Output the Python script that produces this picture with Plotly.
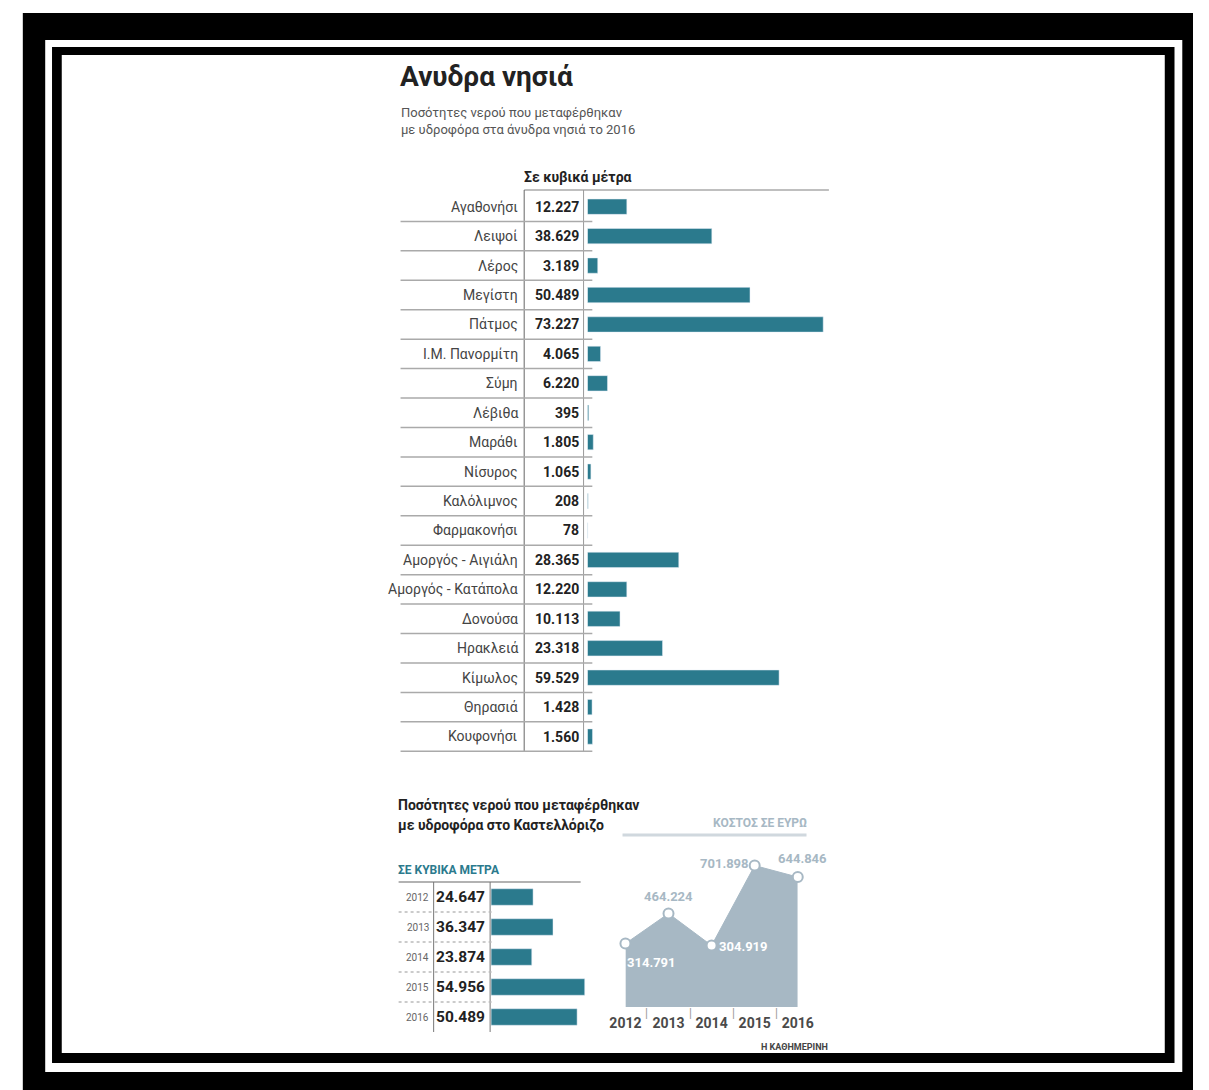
import plotly.graph_objects as go

# ---------------- data ----------------
islands = ["Αγαθονήσι", "Λειψοί", "Λέρος", "Μεγίστη", "Πάτμος", "Ι.Μ. Πανορμίτη", "Σύμη",
           "Λέβιθα", "Μαράθι", "Νίσυρος", "Καλόλιμνος", "Φαρμακονήσι", "Αμοργός - Αιγιάλη",
           "Αμοργός - Κατάπολα", "Δονούσα", "Ηρακλειά", "Κίμωλος", "Θηρασιά", "Κουφονήσι"]
island_m3 = [12227, 38629, 3189, 50489, 73227, 4065, 6220, 395, 1805, 1065, 208, 78,
             28365, 12220, 10113, 23318, 59529, 1428, 1560]

years = [2012, 2013, 2014, 2015, 2016]
kastel_m3 = [24647, 36347, 23874, 54956, 50489]
kastel_cost = [314791, 464224, 304919, 701898, 644846]

title = "Ανυδρα νησιά"
subtitle = ["Ποσότητες νερού που μεταφέρθηκαν", "με υδροφόρα στα άνυδρα νησιά το 2016"]
unit_label = "Σε κυβικά μέτρα"
k_title = ["Ποσότητες νερού που μεταφέρθηκαν", "με υδροφόρα στο Καστελλόριζο"]
k_unit = "ΣΕ ΚΥΒΙΚΑ ΜΕΤΡΑ"
cost_label = "ΚΟΣΤΟΣ ΣΕ ΕΥΡΩ"
source = "Η ΚΑΘΗΜΕΡΙΝΗ"

# ---------------- style ----------------
W, H = 1209, 1090
FONT = "Roboto, Liberation Sans, sans-serif"
TEAL = "#2b7a8d"
GREYBLUE = "#a7b8c4"


def X(p):
    return p / W


def Y(p):
    return 1 - p / H


def fmt(v):
    return f"{v:,}".replace(",", ".")


fig = go.Figure()

# main island bars
fig.add_trace(go.Bar(x=island_m3, y=islands, orientation="h", marker_color=TEAL,
                     width=0.52, xaxis="x", yaxis="y"))
# Kastellorizo water bars
fig.add_trace(go.Bar(x=kastel_m3, y=years, orientation="h", marker_color=TEAL,
                     width=0.55, xaxis="x2", yaxis="y2"))
# Kastellorizo cost area
fig.add_trace(go.Scatter(x=years, y=kastel_cost, mode="lines+markers",
                         fill="tozeroy", fillcolor=GREYBLUE,
                         line=dict(color=GREYBLUE, width=1),
                         marker=dict(size=10, color="white", line=dict(color=GREYBLUE, width=2)),
                         xaxis="x3", yaxis="y3", cliponaxis=False))

hidden = dict(visible=False, showgrid=False, zeroline=False, fixedrange=True)

fig.update_layout(
    width=W, height=H, margin=dict(l=0, r=0, t=0, b=0),
    paper_bgcolor="white", plot_bgcolor="rgba(0,0,0,0)",
    showlegend=False, font=dict(family=FONT, color="#333"),
    xaxis=dict(domain=[X(587), X(835)], range=[0, 75000], anchor="y", **hidden),
    yaxis=dict(domain=[Y(752), Y(192)], type="category", autorange="reversed",
               anchor="x", **hidden),
    xaxis2=dict(domain=[X(488), X(593)], range=[0, 60000], anchor="y2", **hidden),
    yaxis2=dict(domain=[Y(1032), Y(882)], type="linear", range=[2016.5, 2011.5],
                anchor="x2", **hidden),
    xaxis3=dict(domain=[X(626), X(803)], range=[2012, 2016], anchor="y3",
                showgrid=False, zeroline=False, showline=False, ticks="",
                tickvals=years, ticktext=["<b>%d</b>" % y for y in years],
                tickfont=dict(family=FONT, size=14, color="#4a4a4a"),
                ticklabelstandoff=6, fixedrange=True),
    yaxis3=dict(domain=[Y(1007), Y(845)], range=[0, 804000], anchor="x3", **hidden),
)

shapes = []
# frame
frame = [((7, 13, 1209, 1090), "black"), ((30, 40, 1198, 1072), "white"),
         ((37, 47, 1190, 1063), "black"), ((47, 55, 1180, 1053), "white")]
for (x0, y0, x1, y1), c in frame:
    shapes.append(dict(type="rect", xref="paper", yref="paper", x0=X(x0), x1=X(x1),
                       y0=Y(y1), y1=Y(y0), fillcolor=c, line=dict(width=0), layer="below"))


def hline(x0, x1, y, color="#999", width=1.5, dash="solid"):
    shapes.append(dict(type="line", xref="paper", yref="paper", x0=X(x0), x1=X(x1),
                       y0=Y(y), y1=Y(y), line=dict(color=color, width=width, dash=dash)))


def vline(x, y0, y1, color="#666", width=1):
    shapes.append(dict(type="line", xref="paper", yref="paper", x0=X(x), x1=X(x),
                       y0=Y(y0), y1=Y(y1), line=dict(color=color, width=width)))


# main table lines
hline(522, 835, 190, "#aaa", 1.5)
vline(522, 190, 752)
vline(583, 190, 752, "#999")
for i in range(len(islands)):
    shapes.append(dict(type="line", xref="paper", yref="y", x0=X(395), x1=X(592),
                       y0=i + 0.5, y1=i + 0.5, line=dict(color="#aaa", width=1.5)))

# Kastellorizo table lines
hline(393, 580, 882, "#999", 1.5)
vline(429, 882, 1032, "#777")
vline(487, 882, 1032, "#777")
for yr in years[:-1]:
    shapes.append(dict(type="line", xref="paper", yref="y2", x0=X(393), x1=X(490),
                       y0=yr + 0.5, y1=yr + 0.5, line=dict(color="#bbb", width=1.5, dash="dot")))

# cost header line
hline(623, 812, 835, "#d0d8de", 3)

fig.update_layout(shapes=shapes)

ann = []


def text(x, y, s, size, color="#333", xanchor="left", yanchor="middle", **kw):
    ann.append(dict(x=X(x), y=Y(y), xref="paper", yref="paper", text=s, showarrow=False,
                    xanchor=xanchor, yanchor=yanchor,
                    font=dict(family=FONT, size=size, color=color), **kw))


text(392, 76, "<b>" + title + "</b>", 28, "#222")
text(393, 112, subtitle[0], 13, "#555")
text(393, 130, subtitle[1], 13, "#555")
text(520, 177, "<b>" + unit_label + "</b>", 14, "#222")

for name, v in zip(islands, island_m3):
    ann.append(dict(x=X(518), y=name, xref="paper", yref="y", text=name, showarrow=False,
                    xanchor="right", font=dict(family=FONT, size=14, color="#444")))
    ann.append(dict(x=X(580), y=name, xref="paper", yref="y", text="<b>" + fmt(v) + "</b>",
                    showarrow=False, xanchor="right",
                    font=dict(family=FONT, size=14, color="#222")))

text(390, 805, "<b>" + k_title[0] + "</b>", 14, "#222")
text(390, 825, "<b>" + k_title[1] + "</b>", 14, "#222")
text(390, 870, "<b>" + k_unit + "</b>", 12, TEAL)

for yr, v in zip(years, kastel_m3):
    ann.append(dict(x=X(426), y=yr, xref="paper", yref="y2", text=str(yr), showarrow=False,
                    xanchor="right", font=dict(family=FONT, size=10, color="#666")))
    ann.append(dict(x=X(484), y=yr, xref="paper", yref="y2", text="<b>" + fmt(v) + "</b>",
                    showarrow=False, xanchor="right",
                    font=dict(family=FONT, size=15.5, color="#222")))

text(815, 823, "<b>" + cost_label + "</b>", 12, GREYBLUE, xanchor="right")

# cost value labels
cost_pos = [  # (xanchor, xshift, yshift, color)
    ("left", 0, -19, "white"),
    ("center", 0, 17, GREYBLUE),
    ("left", 5, -1, "white"),
    ("right", -4, 2, GREYBLUE),
    ("center", 5, 19, GREYBLUE),
]
for yr, v, (xa, xs, ys, c) in zip(years, kastel_cost, cost_pos):
    ann.append(dict(x=yr, y=v, xref="x3", yref="y3", text="<b>" + fmt(v) + "</b>",
                    showarrow=False, xanchor=xa, xshift=xs, yshift=ys,
                    font=dict(family=FONT, size=13, color=c)))

for yr in years[:-1]:
    ann.append(dict(x=yr + 0.5, y=Y(1022), xref="x3", yref="paper", text="|",
                    showarrow=False, font=dict(family=FONT, size=12, color="#999")))

text(836, 1047, "<b>" + source + "</b>", 9, "#444", xanchor="right")

fig.update_layout(annotations=ann)

fig.write_html("out.html")
